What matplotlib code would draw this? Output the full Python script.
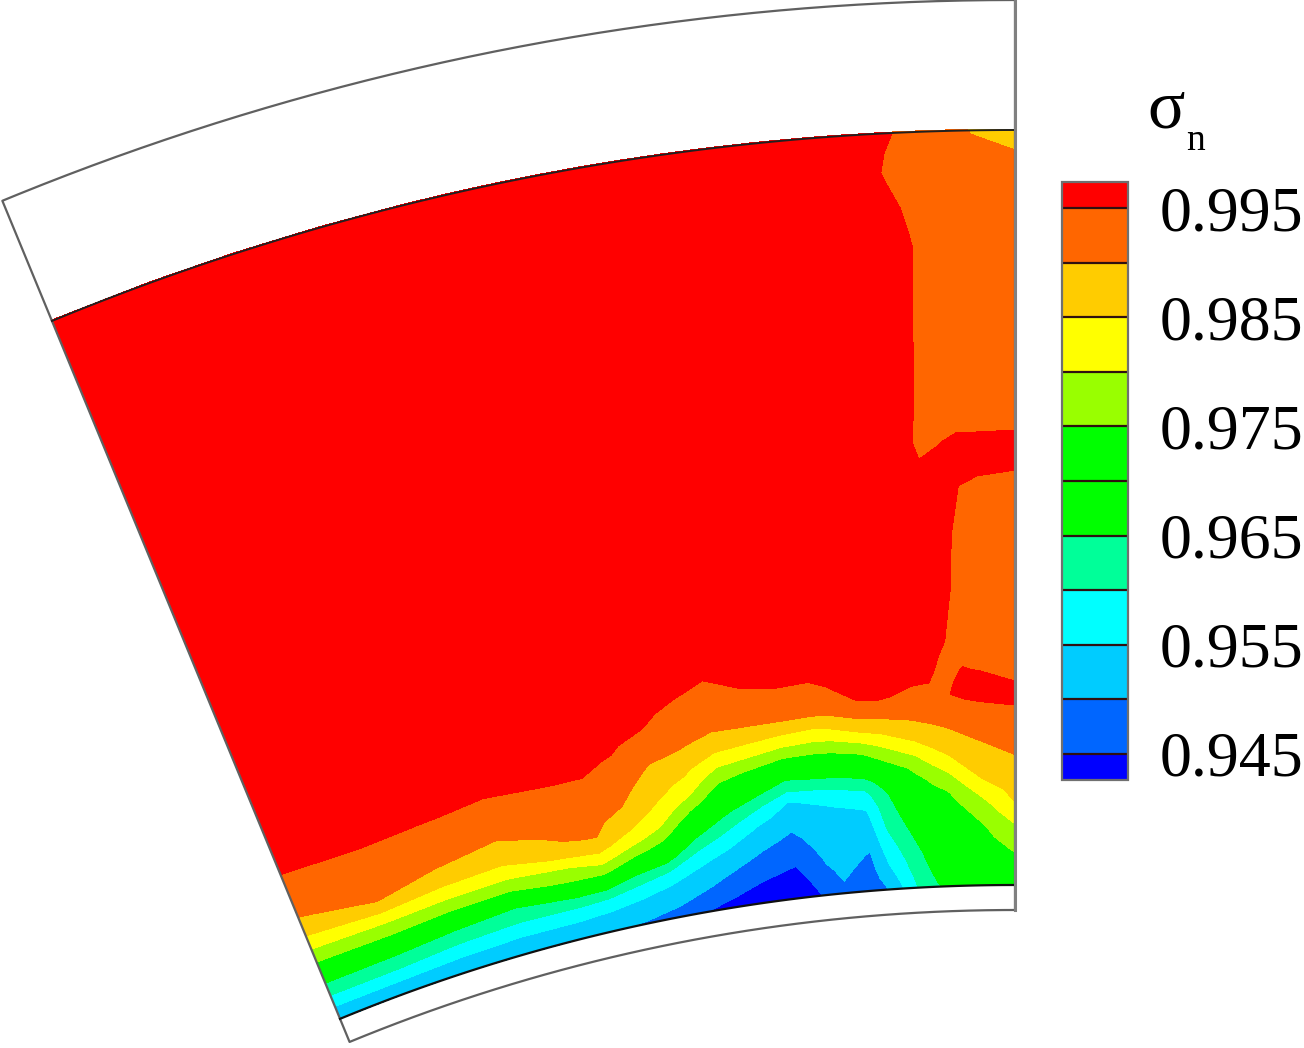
import numpy as np
import matplotlib
matplotlib.use("Agg")
import matplotlib.pyplot as plt

# ---- Data ----
# blade-to-blade grid: angle from the right edge (deg), distance from the hub line (px)
theta = [22.43, 20, 18, 16, 14, 13, 12, 11, 10, 9, 8, 7, 6, 5.5, 4.6, 4, 3, 2.5, 2, 1.5, 1, 0]
depth = [0, 12, 24, 36, 48, 60, 72, 84, 96, 108, 120, 132, 144, 156, 168, 180, 192, 204, 216,
         230, 260, 300, 350, 400, 415, 430, 445, 455, 480, 640, 680, 716, 735, 756]

# sigma_n = 0.9 + value / 10000, one row per depth, one column per theta
sigma_table = [
    [510, 510, 505, 505, 505, 502, 495, 472, 450, 435, 412, 404, 465, 480, 472, 505, 615, 645, 665, 675, 685, 695],
    [544, 544, 536, 533, 534, 529, 521, 508, 480, 453, 433, 421, 479, 500, 480, 528, 626, 657, 676, 686, 697, 715],
    [595, 595, 581, 571, 572, 562, 548, 531, 508, 478, 453, 438, 494, 508, 488, 550, 636, 669, 686, 698, 710, 735],
    [639, 637, 624, 615, 621, 615, 587, 558, 531, 502, 474, 456, 505, 515, 497, 567, 646, 681, 697, 709, 722, 755],
    [691, 690, 668, 653, 688, 688, 640, 607, 556, 527, 495, 473, 515, 523, 509, 584, 661, 693, 708, 721, 735, 776],
    [745, 750, 738, 731, 762, 767, 709, 675, 594, 553, 516, 490, 524, 530, 523, 601, 676, 705, 719, 732, 747, 797],
    [787, 796, 786, 780, 800, 820, 773, 725, 642, 586, 538, 508, 533, 538, 538, 615, 692, 717, 729, 743, 767, 825],
    [833, 850, 836, 827, 859, 869, 821, 775, 684, 625, 568, 528, 542, 546, 555, 628, 708, 729, 740, 761, 790, 852],
    [869, 900, 871, 863, 897, 902, 857, 812, 726, 664, 612, 548, 558, 568, 585, 642, 724, 741, 753, 789, 821, 865],
    [898, 911, 900, 885, 909, 911, 879, 838, 771, 699, 660, 604, 610, 614, 630, 669, 739, 759, 786, 821, 853, 877],
    [912, 923, 913, 905, 920, 921, 900, 857, 811, 733, 702, 655, 665, 666, 682, 715, 762, 794, 819, 853, 868, 890],
    [925, 934, 927, 919, 930, 931, 912, 872, 839, 770, 743, 709, 712, 714, 730, 761, 800, 831, 852, 871, 884, 902],
    [938, 945, 940, 933, 941, 941, 924, 887, 863, 810, 792, 765, 758, 762, 779, 804, 843, 862, 874, 889, 900, 914],
    [950, 953, 951, 947, 950, 950, 935, 901, 887, 850, 836, 818, 808, 812, 839, 850, 874, 888, 896, 908, 916, 926],
    [956, 959, 957, 954, 956, 956, 947, 918, 905, 883, 879, 865, 854, 862, 883, 888, 902, 908, 918, 927, 932, 938],
    [962, 965, 963, 960, 962, 962, 955, 935, 917, 906, 907, 908, 902, 905, 929, 933, 922, 924, 939, 945, 947, 950],
    [968, 971, 969, 966, 968, 968, 961, 951, 930, 917, 921, 926, 920, 927, 953, 954, 942, 939, 949, 954, 957, 957],
    [974, 977, 975, 972, 974, 974, 967, 957, 942, 928, 936, 944, 939, 948, 959, 961, 952, 950, 946, 955, 956, 950],
    [980, 980, 980, 978, 980, 980, 973, 963, 952, 939, 950, 954, 953, 955, 964, 967, 955, 952, 946, 951, 949, 945],
    [980, 980, 980, 980, 980, 980, 980, 970, 959, 951, 958, 961, 960, 962, 971, 975, 958, 953, 948, 946, 943, 941],
    [980, 980, 980, 980, 980, 980, 980, 980, 975, 968, 974, 975, 975, 975, 980, 980, 965, 958, 952, 935, 930, 930],
    [980, 980, 980, 980, 980, 980, 980, 980, 980, 980, 980, 980, 980, 980, 980, 980, 965, 965, 960, 937, 932, 932],
    [980, 980, 980, 980, 980, 980, 980, 980, 980, 980, 980, 980, 980, 980, 980, 980, 965, 966, 962, 940, 934, 934],
    [980, 980, 980, 980, 980, 980, 980, 980, 980, 980, 980, 980, 980, 980, 980, 980, 965, 967, 965, 950, 945, 944],
    [980, 980, 980, 980, 980, 980, 980, 980, 980, 980, 980, 980, 980, 980, 980, 980, 965, 958, 960, 957, 953, 950],
    [980, 980, 980, 980, 980, 980, 980, 980, 980, 980, 980, 980, 980, 980, 980, 980, 965, 949, 955, 965, 965, 961],
    [980, 980, 980, 980, 980, 980, 980, 980, 980, 980, 980, 980, 980, 980, 980, 980, 965, 943, 948, 956, 955, 958],
    [980, 980, 980, 980, 980, 980, 980, 980, 980, 980, 980, 980, 980, 980, 980, 980, 965, 944, 944, 949, 949, 950],
    [980, 980, 980, 980, 980, 980, 980, 980, 980, 980, 980, 980, 980, 980, 980, 980, 965, 947, 935, 935, 932, 932],
    [980, 980, 980, 980, 980, 980, 980, 980, 980, 980, 980, 980, 980, 980, 980, 980, 965, 952, 935, 932, 930, 930],
    [980, 980, 980, 980, 980, 980, 980, 980, 980, 980, 980, 980, 980, 980, 980, 980, 958, 945, 933, 929, 925, 917],
    [980, 980, 980, 980, 980, 980, 980, 980, 980, 980, 980, 980, 980, 980, 980, 979, 947, 935, 932, 926, 921, 906],
    [980, 980, 980, 980, 980, 980, 980, 980, 980, 980, 980, 980, 980, 980, 980, 977, 950, 940, 931, 921, 910, 900],
    [980, 980, 980, 980, 980, 980, 980, 980, 980, 980, 980, 980, 980, 980, 980, 975, 954, 945, 930, 915, 897, 875],
]

levels = [0.945, 0.95, 0.955, 0.96, 0.965, 0.97, 0.975, 0.98, 0.985, 0.99, 0.995]
tick_values = [0.945, 0.955, 0.965, 0.975, 0.985, 0.995]
band_colors = ["#0000ff", "#0066ff", "#00ccff", "#00ffff", "#00ff99", "#00ff00",
               "#00ff00", "#99ff00", "#ffff00", "#ffcc00", "#ff6600", "#ff0000"]

# ---- Sector geometry in picture pixels ----
CX, CY = 1015, 2654
HUB, SHROUD = 1769, 2524
OUT_HUB, OUT_SHROUD = 1744, 2654
TH_MAX = 22.43

fig = plt.figure(figsize=(13.04, 10.48), dpi=100)
ax = fig.add_axes([0, 0, 1, 1])
ax.set_xlim(0, 1304)
ax.set_ylim(1048, 0)
ax.axis("off")

T, D = np.meshgrid(np.radians(theta), depth)
R = HUB + D
sigma = 0.9 + np.array(sigma_table) / 10000
cf = ax.contourf(CX - R * np.sin(T), CY - R * np.cos(T), sigma,
                 levels=levels, colors=band_colors, extend="both")


def arc(r):
    th = np.radians(np.linspace(0, TH_MAX, 120))
    return CX - r * np.sin(th), CY - r * np.cos(th)


# outer sector outline
xo, yo = arc(OUT_SHROUD)
xi, yi = arc(OUT_HUB)
ax.plot(np.r_[xo, xi[::-1], xo[0]], np.r_[yo, yi[::-1], yo[0]], color="#606060", lw=1.6, clip_on=False)
# edges of the coloured zone
xs, ys = arc(SHROUD)
ax.plot(xs, ys, color="#202020", lw=1.4)
xh, yh = arc(HUB)
ax.plot(xh, yh, color="#101010", lw=1.6)
ax.plot([CX, CX], [0, 910], color="#808080", lw=2.2)

# ---- Legend ----
cax = fig.add_axes([1062 / 1304, 1 - 780 / 1048, 66 / 1304, 598 / 1048])
cb = fig.colorbar(cf, cax=cax, extend="both", extendrect=True, extendfrac=0.048,
                  drawedges=True, spacing="uniform")
cb.set_ticks(tick_values, labels=["%.3f" % v for v in tick_values])
cb.ax.tick_params(length=0, pad=23, labelsize=46)
for lab in cb.ax.get_yticklabels():
    lab.set_family("Liberation Serif")
cb.dividers.set_color("#301010")
cb.dividers.set_linewidth(1.6)
cb.outline.set_edgecolor("#707070")
cb.outline.set_linewidth(1.6)

ax.text(1147, 128, "\u03c3", family="Liberation Serif", fontsize=50, va="baseline", ha="left")
ax.text(1186, 150, "n", family="Liberation Serif", fontsize=27, va="baseline", ha="left")

fig.savefig("out.png", dpi=100)
